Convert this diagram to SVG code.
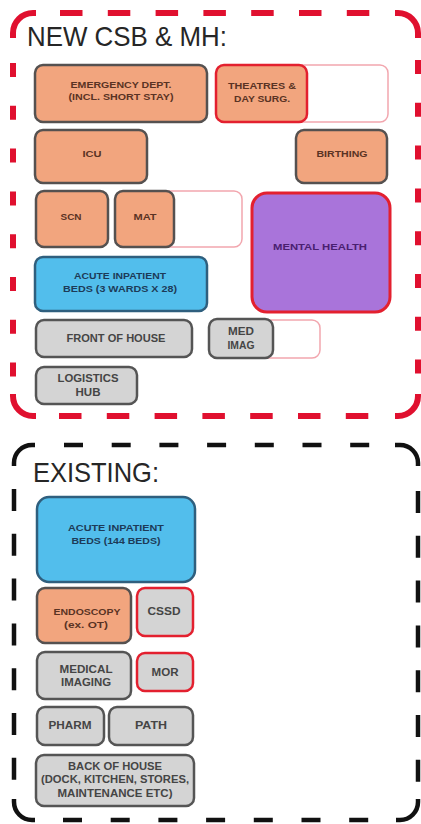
<svg xmlns="http://www.w3.org/2000/svg" width="421" height="824" viewBox="0 0 421 824">
<style>
.title{font-family:"Liberation Sans",Arial,sans-serif;font-size:28px;fill:#262626}
.t{font-family:"Liberation Sans",Arial,sans-serif;font-weight:bold;text-anchor:middle}
.s{font-size:8.5px;fill:#5a3324}
.b{font-size:8.5px;fill:#1d3b58}
.g{font-size:10px;fill:#454545}
.p{font-size:9px;fill:#4a2070}
.salmon{fill:#F2A57E;stroke:#555150;stroke-width:2.5}
.salmonr{fill:#F2A57E;stroke:#E3202F;stroke-width:2.5}
.blue{fill:#52BEEC;stroke:#2f5f7e;stroke-width:2.5}
.gray{fill:#D4D4D4;stroke:#555555;stroke-width:2.5}
.grayr{fill:#D4D4D4;stroke:#E3202F;stroke-width:2.5}
.ext{fill:#ffffff;stroke:#F2A6AE;stroke-width:1.5}
.purple{fill:#A974DA;stroke:#E3202F;stroke-width:3}
.red{fill:none;stroke:#E0102F;stroke-width:6}
.blk{fill:none;stroke:#111111;stroke-width:4.5}
.rh{stroke-dasharray:22.5 25.3}
.rv{stroke-dasharray:14 28.8}
.bh{stroke-dasharray:19 28.7}
.bv{stroke-dasharray:22 22.8}
</style>
<rect width="421" height="824" fill="#ffffff"/>
<g id="frame-new">
<path class="red" d="M13 38 V33 A20 20 0 0 1 33 13 H36"/>
<path class="red" d="M395 13 H398 A20 20 0 0 1 418 33 V38"/>
<path class="red" d="M418 394 V396 A20 20 0 0 1 398 416 H395"/>
<path class="red" d="M36 416 H33 A20 20 0 0 1 13 396 V394"/>
<path class="red rh" d="M60 13 H372"/>
<path class="red rh" d="M59 416 H372"/>
<path class="red rv" d="M13 63 V380"/>
<path class="red rv" d="M418 60 V380"/>
<text class="title" x="27" y="46" textLength="200" lengthAdjust="spacingAndGlyphs">NEW CSB &amp; MH:</text>
</g>
<g id="frame-existing">
<path class="blk" d="M14 466 V463 A18 18 0 0 1 32 445 H35"/>
<path class="blk" d="M395 445 H400 A18 18 0 0 1 418 463 V466"/>
<path class="blk" d="M418 799 V802 A18 18 0 0 1 400 820 H396"/>
<path class="blk" d="M35 820 H32 A18 18 0 0 1 14 802 V799"/>
<path class="blk bh" d="M64 445 H372"/>
<path class="blk bh" d="M63 820 H372"/>
<path class="blk bv" d="M14 489 V782"/>
<path class="blk bv" d="M418 491 V782"/>
<text class="title" x="33" y="482" textLength="126" lengthAdjust="spacingAndGlyphs">EXISTING:</text>
</g>
<g id="connectors"></g>
<g id="emergency">
<rect class="salmon" x="35" y="65" width="172" height="57" rx="8"/>
<text class="t s" x="121" y="88" textLength="101" lengthAdjust="spacingAndGlyphs">EMERGENCY DEPT.</text>
<text class="t s" x="121" y="100" textLength="105" lengthAdjust="spacingAndGlyphs">(INCL. SHORT STAY)</text>
</g>
<g id="theatres">
<rect class="ext" x="290" y="65" width="98" height="57" rx="8"/>
<rect class="salmonr" x="216" y="65" width="91" height="57" rx="8"/>
<text class="t s" x="262" y="89" textLength="68" lengthAdjust="spacingAndGlyphs">THEATRES &amp;</text>
<text class="t s" x="262" y="102" textLength="56" lengthAdjust="spacingAndGlyphs">DAY SURG.</text>
</g>
<g id="icu">
<rect class="salmon" x="35" y="130" width="112" height="53" rx="8"/>
<text class="t s" x="92" y="157" textLength="19" lengthAdjust="spacingAndGlyphs">ICU</text>
</g>
<g id="birthing">
<rect class="salmon" x="296" y="130" width="91" height="53" rx="8"/>
<text class="t s" x="342" y="157" textLength="51" lengthAdjust="spacingAndGlyphs">BIRTHING</text>
</g>
<g id="scn">
<rect class="salmon" x="36" y="191" width="72" height="56" rx="8"/>
<text class="t s" x="71" y="220" textLength="21" lengthAdjust="spacingAndGlyphs">SCN</text>
</g>
<g id="mat">
<rect class="ext" x="160" y="191" width="82" height="56" rx="8"/>
<rect class="salmon" x="115" y="191" width="59" height="56" rx="8"/>
<text class="t s" x="145" y="220" textLength="23" lengthAdjust="spacingAndGlyphs">MAT</text>
</g>
<g id="mental-health">
<rect class="purple" x="252" y="193" width="138" height="119" rx="15"/>
<text class="t p" x="320" y="250" textLength="94" lengthAdjust="spacingAndGlyphs">MENTAL HEALTH</text>
</g>
<g id="acute-new">
<rect class="blue" x="35" y="257" width="172" height="54" rx="8"/>
<text class="t b" x="120" y="279" textLength="92" lengthAdjust="spacingAndGlyphs">ACUTE INPATIENT</text>
<text class="t b" x="120" y="292" textLength="114" lengthAdjust="spacingAndGlyphs">BEDS (3 WARDS X 28)</text>
</g>
<g id="front-of-house">
<rect class="gray" x="36" y="320" width="156" height="37" rx="8"/>
<text class="t g" x="116" y="342" textLength="99" lengthAdjust="spacingAndGlyphs">FRONT OF HOUSE</text>
</g>
<g id="med-imag">
<rect class="ext" x="260" y="320" width="60" height="38" rx="8"/>
<rect class="gray" x="209" y="319" width="64" height="39" rx="8"/>
<text class="t g" x="241" y="335" textLength="26" lengthAdjust="spacingAndGlyphs">MED</text>
<text class="t g" x="241" y="349" textLength="27" lengthAdjust="spacingAndGlyphs">IMAG</text>
</g>
<g id="logistics">
<rect class="gray" x="36" y="367" width="101" height="37" rx="8"/>
<text class="t g" x="88" y="382" textLength="61" lengthAdjust="spacingAndGlyphs">LOGISTICS</text>
<text class="t g" x="88" y="396" textLength="25" lengthAdjust="spacingAndGlyphs">HUB</text>
</g>
<g id="acute-existing">
<rect class="blue" x="37" y="497" width="158" height="85" rx="12"/>
<text class="t b" x="116" y="531" textLength="96" lengthAdjust="spacingAndGlyphs">ACUTE INPATIENT</text>
<text class="t b" x="116" y="544" textLength="89" lengthAdjust="spacingAndGlyphs">BEDS (144 BEDS)</text>
</g>
<g id="endoscopy">
<rect class="salmon" x="37" y="588" width="94" height="55" rx="8"/>
<text class="t s" x="87" y="615" textLength="67" lengthAdjust="spacingAndGlyphs">ENDOSCOPY</text>
<text class="t s" x="86" y="628" textLength="44" lengthAdjust="spacingAndGlyphs">(ex. OT)</text>
</g>
<g id="cssd">
<rect class="grayr" x="137" y="588" width="56" height="48" rx="8"/>
<text class="t g" x="164" y="615" textLength="33" lengthAdjust="spacingAndGlyphs">CSSD</text>
</g>
<g id="medical-imaging">
<rect class="gray" x="37" y="652" width="94" height="47" rx="8"/>
<text class="t g" x="86" y="673" textLength="53" lengthAdjust="spacingAndGlyphs">MEDICAL</text>
<text class="t g" x="86" y="686" textLength="50" lengthAdjust="spacingAndGlyphs">IMAGING</text>
</g>
<g id="mor">
<rect class="grayr" x="137" y="653" width="56" height="38" rx="8"/>
<text class="t g" x="165" y="676" textLength="27" lengthAdjust="spacingAndGlyphs">MOR</text>
</g>
<g id="pharm">
<rect class="gray" x="37" y="707" width="67" height="38" rx="8"/>
<text class="t g" x="70" y="729" textLength="43" lengthAdjust="spacingAndGlyphs">PHARM</text>
</g>
<g id="path">
<rect class="gray" x="109" y="707" width="84" height="38" rx="8"/>
<text class="t g" x="151" y="729" textLength="32" lengthAdjust="spacingAndGlyphs">PATH</text>
</g>
<g id="back-of-house">
<rect class="gray" x="36" y="755" width="158" height="51" rx="8"/>
<text class="t g" x="115" y="770" textLength="94" lengthAdjust="spacingAndGlyphs">BACK OF HOUSE</text>
<text class="t g" x="115" y="783" textLength="148" lengthAdjust="spacingAndGlyphs">(DOCK, KITCHEN, STORES,</text>
<text class="t g" x="115" y="797" textLength="115" lengthAdjust="spacingAndGlyphs">MAINTENANCE ETC)</text>
</g>
</svg>
